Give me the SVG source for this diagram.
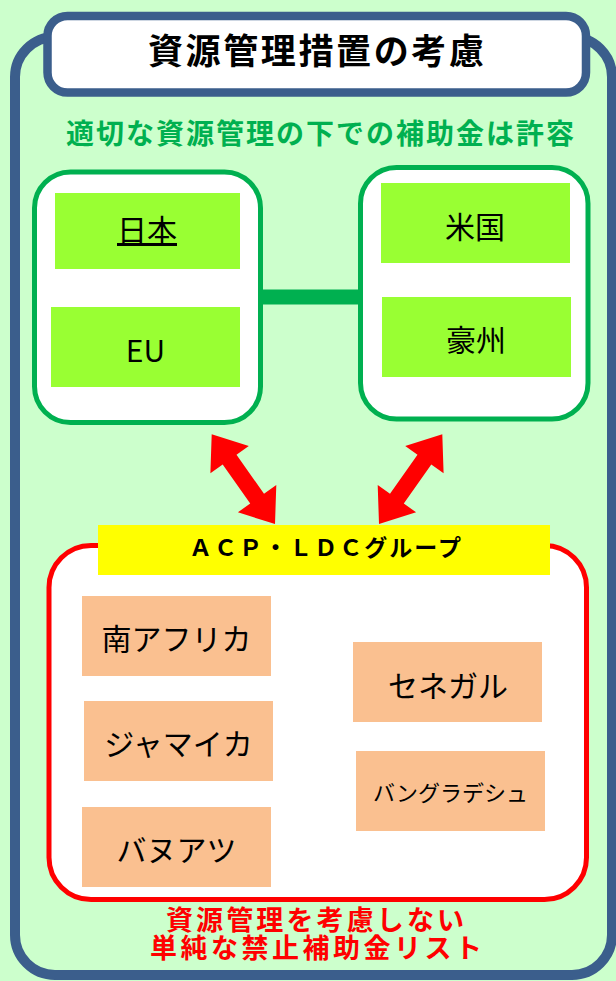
<svg xmlns="http://www.w3.org/2000/svg" width="616" height="981" viewBox="0 0 616 981">
<style>
text{font-family:"Noto Sans CJK JP","Noto Sans",sans-serif;}
.b{font-weight:700;}
.c{text-anchor:middle;fill:#000;}
.lime{fill:#99FF33;}
.peach{fill:#FAC090;}
.gbox{fill:#fff;stroke:#00B050;stroke-width:5;}
.arrow{fill:#FF0000;}
</style>
<rect x="0" y="0" width="616" height="981" fill="#CCFFCC"/>
<g id="frame">
<rect x="15" y="37" width="597" height="938" rx="40" ry="40" fill="#CCFFCC" stroke="#3B5E8C" stroke-width="10"/>
</g>
<g id="title">
<rect x="47.5" y="16" width="538.5" height="76.5" rx="20" ry="20" fill="#fff" stroke="#3B5E8C" stroke-width="8.5"/>
<text class="b" x="148" y="64" font-size="35" textLength="336" lengthAdjust="spacing" fill="#000">資源管理措置の考慮</text>
</g>
<g id="subtitle">
<text class="b" x="66" y="144" font-size="28" textLength="508" lengthAdjust="spacing" fill="#00B050">適切な資源管理の下での補助金は許容</text>
</g>
<g id="connectors">
<rect x="260" y="289.5" width="101" height="15" fill="#00B050"/>
<polygon class="arrow" points="211.7,434.3 248.8,446 236.5,454.7 264,493.8 276.3,485.1 275,524 237.9,512.3 250.2,503.6 222.7,464.5 210.4,473.2"/>
<polygon class="arrow" points="442.3,434.3 405.2,446 417.5,454.7 390,493.8 377.7,485.1 379,524 416.1,512.3 403.8,503.6 431.3,464.5 443.6,473.2"/>
</g>
<g id="group-left">
<rect class="gbox" x="34.5" y="172" width="226" height="250.5" rx="36" ry="36"/>
<g id="japan">
<rect class="lime" x="55" y="193" width="185" height="76"/>
<text class="c" x="147" y="241" font-size="30" text-decoration="underline">日本</text>
</g>
<g id="eu">
<rect class="lime" x="51" y="307" width="189" height="80"/>
<text class="c" x="145.5" y="362" font-size="30">EU</text>
</g>
</g>
<g id="group-right">
<rect class="gbox" x="360.5" y="167.5" width="227.5" height="251.5" rx="36" ry="36"/>
<g id="usa">
<rect class="lime" x="381" y="183" width="189" height="80"/>
<text class="c" x="475" y="238" font-size="30">米国</text>
</g>
<g id="australia">
<rect class="lime" x="382" y="297" width="189" height="80"/>
<text class="c" x="476" y="351" font-size="30">豪州</text>
</g>
</g>
<g id="group-acp">
<rect x="49" y="545.5" width="537.5" height="354" rx="42" ry="42" fill="#fff" stroke="#FF0000" stroke-width="5"/>
<rect x="98" y="525" width="452" height="50" fill="#FFFF00"/>
<text class="b" x="189" y="556" font-size="23" textLength="272" lengthAdjust="spacing" fill="#000">ＡＣＰ・ＬＤＣグループ</text>
<g id="south-africa">
<rect class="peach" x="82" y="596" width="189" height="80"/>
<text class="c" x="176.5" y="650" font-size="30">南アフリカ</text>
</g>
<g id="jamaica">
<rect class="peach" x="84" y="701" width="189" height="80"/>
<text class="c" x="178.5" y="755" font-size="30">ジャマイカ</text>
</g>
<g id="vanuatu">
<rect class="peach" x="82" y="807" width="189" height="80"/>
<text class="c" x="176.5" y="861" font-size="30">バヌアツ</text>
</g>
<g id="senegal">
<rect class="peach" x="353" y="642" width="189" height="80"/>
<text class="c" x="448" y="697" font-size="30">セネガル</text>
</g>
<g id="bangladesh">
<rect class="peach" x="356" y="751" width="189" height="80"/>
<text class="c" x="450.5" y="801" font-size="22">バングラデシュ</text>
</g>
</g>
<g id="caption">
<text class="b" font-size="27" fill="#FF0000"><tspan x="166" y="930" textLength="298" lengthAdjust="spacing">資源管理を考慮しない</tspan><tspan x="150" y="958" textLength="332" lengthAdjust="spacing">単純な禁止補助金リスト</tspan></text>
</g>
</svg>
